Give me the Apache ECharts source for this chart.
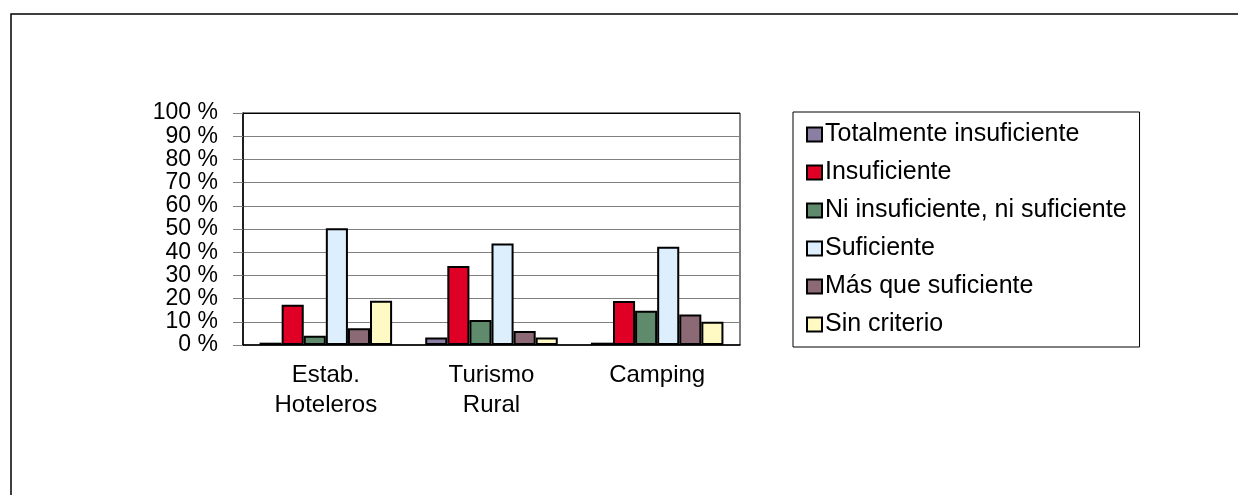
<!DOCTYPE html>
<html>
<head>
<meta charset="utf-8">
<script src="https://cdn.jsdelivr.net/npm/echarts@6/dist/echarts.min.js"></script>
<style>
html,body{margin:0;padding:0;background:#fff;}
#chart{width:1238px;height:495px;}
</style>
</head>
<body>
<div id="chart"></div>
<script>
const categories = ['Estab.\nHoteleros', 'Turismo\nRural', 'Camping'];
const seriesNames = ['Totalmente insuficiente', 'Insuficiente', 'Ni insuficiente, ni suficiente', 'Suficiente', 'Más que suficiente', 'Sin criterio'];
const totalmenteInsuficiente = [1, 3.2, 1];
const insuficiente = [17.3, 34, 19];
const niInsuficienteNiSuficiente = [4, 10.8, 14.8];
const suficiente = [50.3, 43.8, 42.4];
const masQueSuficiente = [7.2, 6, 13.2];
const sinCriterio = [19.1, 3.2, 10];
const yTicks = [0, 10, 20, 30, 40, 50, 60, 70, 80, 90, 100];

const seriesValues = [totalmenteInsuficiente, insuficiente, niInsuficienteNiSuficiente, suficiente, masQueSuficiente, sinCriterio];
const colors = ['#8a7fa3', '#e00025', '#5f8a6b', '#ddeefc', '#8c6a75', '#fffac4'];
const font = "'Liberation Sans', Arial, sans-serif";

const chart = echarts.init(document.getElementById('chart'), null, {renderer: 'canvas'});
const gridColors = yTicks.map((v, i) => i === yTicks.length - 1 ? '#000' : '#808080');

chart.setOption({
  animation: false,
  color: colors,
  graphic: [{
    type: 'rect',
    shape: {x: 11, y: 14, width: 1400, height: 700},
    style: {fill: 'none', stroke: '#000', lineWidth: 1.5},
    silent: true,
    z: -10
  }],
  grid: {
    left: 243, top: 113, width: 497, height: 232,
    show: true, borderColor: '#000', borderWidth: 1, backgroundColor: 'transparent'
  },
  legend: {
    orient: 'vertical',
    left: 793, top: 112,
    padding: [10, 13, 10, 13],
    borderColor: '#000', borderWidth: 1,
    itemWidth: 15, itemHeight: 14, itemGap: 13,
    icon: 'rect',
    itemStyle: {borderColor: '#000', borderWidth: 2},
    textStyle: {fontFamily: font, fontSize: 25, color: '#000', lineHeight: 25, padding: [0, 0, 0, -2]},
    data: seriesNames
  },
  xAxis: {
    type: 'category',
    data: categories,
    axisLine: {show: true, lineStyle: {color: '#000', width: 1.5}},
    axisTick: {show: false},
    axisLabel: {fontFamily: font, fontSize: 24, color: '#000', lineHeight: 30, margin: 15, interval: 0}
  },
  yAxis: {
    type: 'value',
    min: 0, max: 100, interval: 10,
    axisLine: {show: true, lineStyle: {color: '#000', width: 1.5}},
    axisTick: {show: true, length: 10, lineStyle: {color: '#808080'}},
    splitLine: {show: true, lineStyle: {color: gridColors, width: 1}},
    axisLabel: {fontFamily: font, fontSize: 23, color: '#000', margin: 25, formatter: '{value} %'}
  },
  series: seriesNames.map((name, i) => ({
    name: name,
    type: 'bar',
    data: seriesValues[i],
    barGap: '0%',
    barCategoryGap: '20%',
    itemStyle: {color: colors[i], borderColor: '#000', borderWidth: 2}
  }))
});
</script>
</body>
</html>
